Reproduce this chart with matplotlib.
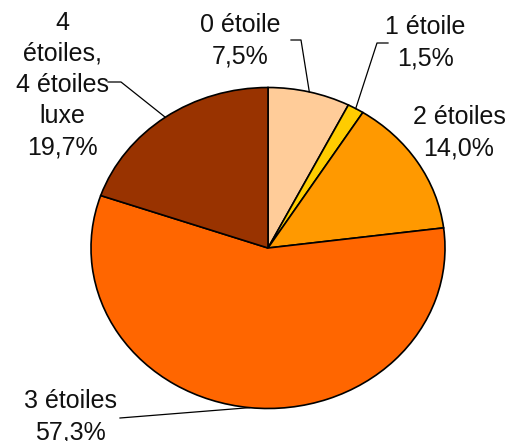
import matplotlib.pyplot as plt
import numpy as np

plt.rcParams['font.family'] = ['Liberation Sans', 'DejaVu Sans']

# data
names = ["0 étoile", "1 étoile", "2 étoiles", "3 étoiles", "4\nétoiles,\n4 étoiles\nluxe"]
pct = [7.5, 1.5, 14.0, 57.3, 19.7]
colors = ["#FFCC99", "#FFCC00", "#FF9900", "#FF6600", "#993300"]

W, H = 511, 441
# pie centre / radii in pixels (the pie is slightly squashed)
cx, cy, rx, ry = 268, 248, 177, 160.5

fig = plt.figure(figsize=(W / 100, H / 100), dpi=100)
ax = fig.add_axes([0, 0, 1, 1])
ax.pie(pct, colors=colors, startangle=90, counterclock=False,
       wedgeprops=dict(edgecolor="black", linewidth=1.2))
ax.set_aspect("auto")
ax.set_xlim(-cx / rx, (W - cx) / rx)
ax.set_ylim(-(H - cy) / ry, cy / ry)
ax.axis("off")


def px(x, y):
    # pixel position -> data coords
    return (x - cx) / rx, (cy - y) / ry


# mid angle of each slice, point on the edge
cum = np.cumsum([0] + pct)
mid = np.radians(90 - (cum[:-1] + np.array(pct) / 2) * 3.6)
edge = np.c_[np.cos(mid), np.sin(mid)]

# label centre, leader start, elbow (pixels)
layout = [
    ((240, 41), (291, 40), (301, 40)),
    ((425, 43), (388, 43), (377, 43)),
    ((459, 133), None, None),
    ((70, 417), (120, 418), None),
    ((62, 85), (108, 82), (121, 82)),
]

for i, (pos, start, elbow) in enumerate(layout):
    txt = names[i] + "\n" + f"{pct[i]:.1f}%".replace(".", ",")
    tx, ty = px(*pos)
    ax.text(tx, ty, txt, ha="center", va="center", fontsize=18,
            linespacing=1.38, color="#111111")
    if start is not None:
        pts = [px(*start)]
        if elbow is not None:
            pts.append(px(*elbow))
        pts.append(edge[i])
        pts = np.array(pts)
        ax.plot(pts[:, 0], pts[:, 1], color="black", lw=0.9)

fig.savefig("out.png", dpi=100)
